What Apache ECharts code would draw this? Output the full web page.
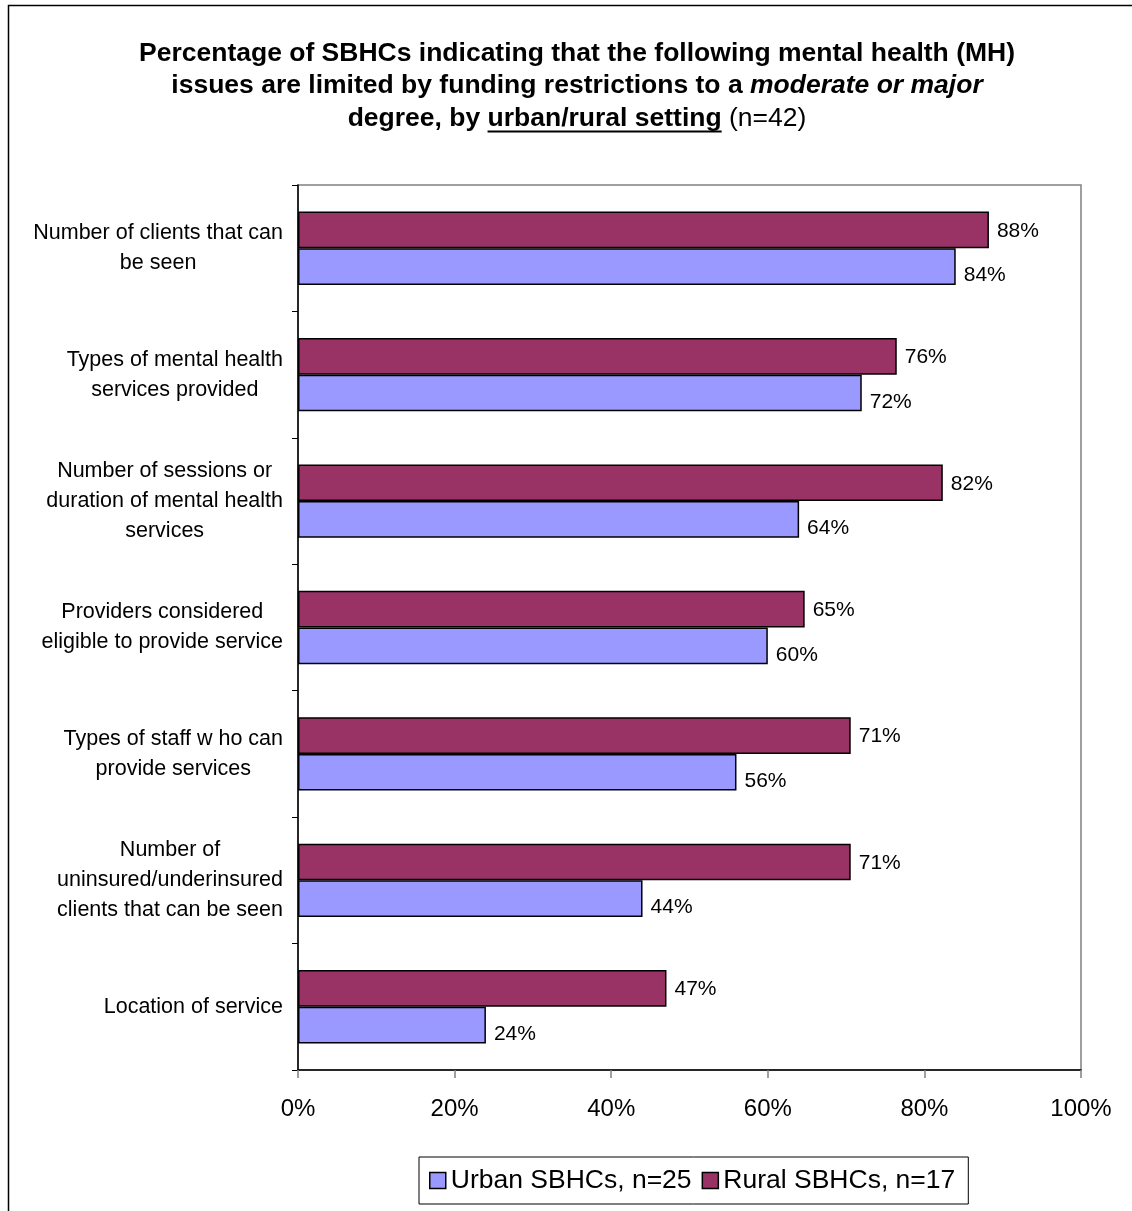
<!DOCTYPE html>
<html>
<head>
<meta charset="utf-8">
<script src="https://cdn.jsdelivr.net/npm/echarts@6/dist/echarts.min.js"></script>
<style>
html,body{margin:0;padding:0;background:#fff;}
#chart{width:1132px;height:1211px;}
</style>
</head>
<body>
<div id="chart"></div>
<script>
// ---- data ----
var categories = [
  "Number of clients that can\nbe seen",
  "Types of mental health\nservices provided",
  "Number of sessions or\nduration of mental health\nservices",
  "Providers considered\neligible to provide service",
  "Types of staff w ho can\nprovide services",
  "Number of\nuninsured/underinsured\nclients that can be seen",
  "Location of service"
];
var urbanValues = [84, 72, 64, 60, 56, 44, 24];
var ruralValues = [88.24, 76.47, 82.35, 64.71, 70.59, 70.59, 47.06];
var seriesNames = ["Urban SBHCs, n=25", "Rural SBHCs, n=17"];
var xTicks = [0, 20, 40, 60, 80, 100];
var titleLine1 = "Percentage of SBHCs indicating that the following mental health (MH)";
var titleLine2a = "issues are limited by funding restrictions to a ";
var titleLine2b = "moderate or major";
var titleLine3a = "degree, by ";
var titleLine3b = "urban/rural setting";
var titleLine3c = " (n=42)";

var FONT = "Liberation Sans, Arial, sans-serif";
var TITLE_SIZE = 26.5;
var TITLE_LH = 32.5;
var TITLE_X = 577;
var TITLE_TOP = 37;

// measure underline position for "urban/rural setting"
var ctx = document.createElement('canvas').getContext('2d');
function tw(t, font) { ctx.font = font; return ctx.measureText(t).width; }
var bFont = 'bold ' + TITLE_SIZE + 'px ' + FONT;
var nFont = 'normal ' + TITLE_SIZE + 'px ' + FONT;
var w3a = tw(titleLine3a, bFont), w3b = tw(titleLine3b, bFont), w3c = tw(titleLine3c, nFont);
var start3 = TITLE_X - (w3a + w3b + w3c) / 2;
var ulY = TITLE_TOP + 2.5 * TITLE_LH + TITLE_SIZE * 0.5;

var chart = echarts.init(document.getElementById('chart'), null, {renderer: 'canvas'});

function makeLabel(dy) {
  return {
    show: true,
    position: 'right',
    distance: 8,
    offset: [0, dy],
    color: '#000',
    fontFamily: FONT,
    fontSize: 21,
    formatter: function (p) { return Math.round(p.value) + '%'; }
  };
}

var option = {
  backgroundColor: '#fff',
  animation: false,
  title: {
    left: TITLE_X,
    top: TITLE_TOP,
    textAlign: 'center',
    padding: 0,
    text: '{b|' + titleLine1 + '}\n' +
          '{b|' + titleLine2a + '}{bi|' + titleLine2b + '}\n' +
          '{b|' + titleLine3a + '}{b|' + titleLine3b + '}{n|' + titleLine3c + '}',
    textStyle: {
      fontFamily: FONT,
      fontSize: TITLE_SIZE,
      lineHeight: TITLE_LH,
      color: '#000',
      rich: {
        b: {fontFamily: FONT, fontSize: TITLE_SIZE, fontWeight: 'bold', color: '#000', lineHeight: TITLE_LH},
        bi: {fontFamily: FONT, fontSize: TITLE_SIZE, fontWeight: 'bold', fontStyle: 'italic', color: '#000', lineHeight: TITLE_LH},
        n: {fontFamily: FONT, fontSize: TITLE_SIZE, fontWeight: 'normal', color: '#000', lineHeight: TITLE_LH}
      }
    }
  },
  graphic: [
    {
      type: 'rect',
      silent: true,
      shape: {x: 8.5, y: 5.5, width: 3000, height: 3000},
      style: {fill: 'none', stroke: '#000', lineWidth: 1.5}
    },
    {
      type: 'line',
      silent: true,
      shape: {x1: start3 + w3a, y1: ulY, x2: start3 + w3a + w3b, y2: ulY},
      style: {stroke: '#000', lineWidth: 2}
    }
  ],
  grid: {
    left: 298,
    right: 51,
    top: 185,
    bottom: 141,
    show: true,
    borderColor: '#808080',
    borderWidth: 1.5,
    containLabel: false
  },
  legend: {
    left: 419,
    top: 1157,
    orient: 'horizontal',
    data: seriesNames,
    icon: 'rect',
    itemWidth: 16,
    itemHeight: 16,
    itemGap: 10,
    padding: [10, 13, 10, 10],
    borderColor: '#000',
    borderWidth: 1,
    backgroundColor: '#fff',
    textStyle: {fontFamily: FONT, fontSize: 26.5, color: '#000'},
    itemStyle: {borderColor: '#000', borderWidth: 1.5}
  },
  xAxis: {
    type: 'value',
    min: 0,
    max: 100,
    interval: 20,
    axisLine: {show: true, lineStyle: {color: '#000', width: 1.5}},
    axisTick: {show: true, length: 8, lineStyle: {color: '#808080', width: 1.5}},
    splitLine: {show: false},
    axisLabel: {
      margin: 27,
      fontFamily: FONT,
      fontSize: 24,
      color: '#000',
      customValues: xTicks,
      formatter: function (v) { return v + '%'; }
    }
  },
  yAxis: {
    type: 'category',
    inverse: true,
    data: categories,
    axisLine: {show: true, lineStyle: {color: '#000', width: 1.5}},
    axisTick: {show: true, length: 6, alignWithLabel: false, lineStyle: {color: '#000', width: 1}},
    axisLabel: {
      margin: 15,
      align: 'right',
      fontFamily: FONT,
      fontSize: 21.5,
      lineHeight: 30,
      color: '#000',
      formatter: function (v) {
        return v.split('\n').map(function (l) { return '{c|' + l + '}'; }).join('\n');
      },
      rich: {
        c: {align: 'center', fontFamily: FONT, fontSize: 21.5, lineHeight: 30, color: '#000'}
      }
    }
  },
  series: [
    {
      name: seriesNames[1],
      type: 'bar',
      data: ruralValues,
      barGap: '0%',
      barCategoryGap: '42%',
      itemStyle: {color: '#993366', borderColor: '#000', borderWidth: 1.5},
      label: makeLabel(1)
    },
    {
      name: seriesNames[0],
      type: 'bar',
      data: urbanValues,
      barGap: '0%',
      barCategoryGap: '42%',
      itemStyle: {color: '#9999FF', borderColor: '#000', borderWidth: 1.5},
      label: makeLabel(9)
    }
  ]
};
chart.setOption(option);
</script>
</body>
</html>
